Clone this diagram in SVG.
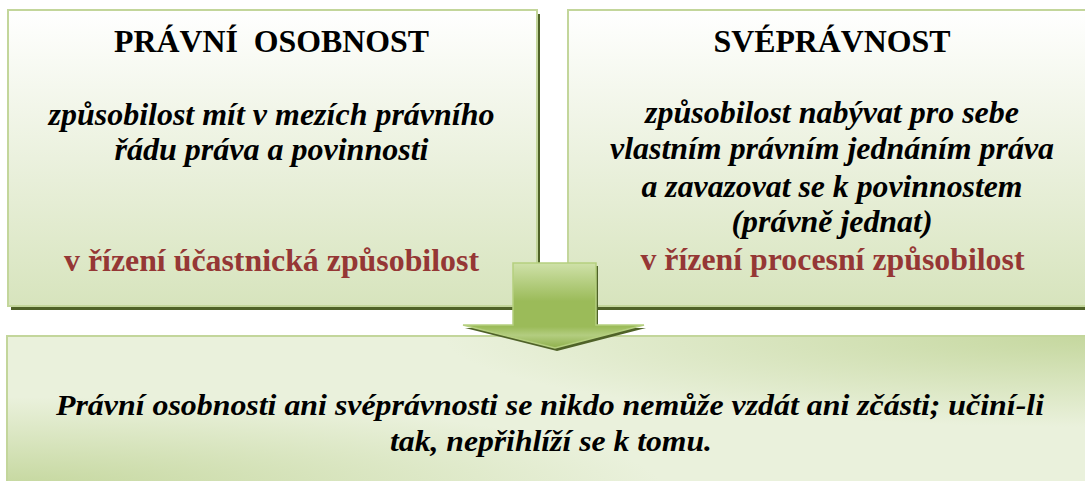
<svg xmlns="http://www.w3.org/2000/svg" width="1085" height="481" viewBox="0 0 1085 481">
<style>
.t{font-family:"Liberation Serif","Times New Roman",serif;font-weight:bold;text-anchor:middle;fill:#000}
.h{font-size:32px}
.b{font-size:31px;font-style:italic}
.r{font-size:31px;fill:#953735}
.f{font-size:30px;font-style:italic}
.box{fill:url(#gTop);stroke:#c3d69b;stroke-width:2}
.shadow{fill:#4f6228}
</style>
<defs>
<linearGradient id="gTop" x1="0" y1="0" x2="0" y2="1">
<stop offset="0" stop-color="#ffffff"/>
<stop offset="0.5" stop-color="#ebf1de"/>
<stop offset="1" stop-color="#d7e4bd"/>
</linearGradient>
<linearGradient id="gArrow" x1="0" y1="0" x2="0" y2="1">
<stop offset="0" stop-color="#cfe1a9"/>
<stop offset="0.45" stop-color="#9bbb59"/>
<stop offset="0.75" stop-color="#9bbb59"/>
<stop offset="0.85" stop-color="#b3cd80"/>
<stop offset="1" stop-color="#8fb04c"/>
</linearGradient>
<radialGradient id="gBL" cx="0" cy="1" r="1">
<stop offset="0" stop-color="#c3d69b" stop-opacity="0.95"/>
<stop offset="0.6" stop-color="#c3d69b" stop-opacity="0"/>
</radialGradient>
<radialGradient id="gTR" cx="1" cy="0" r="1">
<stop offset="0" stop-color="#c3d69b" stop-opacity="0.95"/>
<stop offset="0.6" stop-color="#c3d69b" stop-opacity="0"/>
</radialGradient>
</defs>

<g id="node-bottom">
<rect x="7" y="336" width="1090" height="150" fill="#eaf1dc" stroke="#c3d69b" stroke-width="2"/>
<rect x="8" y="337" width="1090" height="150" fill="url(#gBL)"/>
<rect x="8" y="337" width="1090" height="150" fill="url(#gTR)"/>
<text class="t f" x="550" y="415" textLength="988" lengthAdjust="spacingAndGlyphs">Právní osobnosti ani svéprávnosti se nikdo nemůže vzdát ani zčásti; učiní-li</text>
<text class="t f" x="551" y="451" textLength="322" lengthAdjust="spacingAndGlyphs">tak, nepřihlíží se k tomu.</text>
</g>

<g id="node-pravni-osobnost">
<rect class="shadow" x="11" y="14" width="529" height="296"/>
<rect class="box" x="8" y="10" width="529" height="296"/>
<text class="t h" x="271.5" y="52" textLength="315" lengthAdjust="spacingAndGlyphs" xml:space="preserve">PRÁVNÍ  OSOBNOST</text>
<text class="t b" x="271.5" y="125" textLength="446" lengthAdjust="spacingAndGlyphs">způsobilost mít v mezích právního</text>
<text class="t b" x="271.5" y="160" textLength="314" lengthAdjust="spacingAndGlyphs">řádu práva a povinnosti</text>
<text class="t r" x="271.5" y="271" textLength="415" lengthAdjust="spacingAndGlyphs">v řízení účastnická způsobilost</text>
</g>

<g id="node-svepravnost">
<rect class="shadow" x="571" y="14" width="530" height="296"/>
<rect class="box" x="568" y="10" width="530" height="296"/>
<text class="t h" x="832" y="52" textLength="237" lengthAdjust="spacingAndGlyphs">SVÉPRÁVNOST</text>
<text class="t b" x="832" y="123" textLength="374" lengthAdjust="spacingAndGlyphs">způsobilost nabývat pro sebe</text>
<text class="t b" x="832" y="159" textLength="444" lengthAdjust="spacingAndGlyphs">vlastním právním jednáním práva</text>
<text class="t b" x="832" y="197" textLength="381" lengthAdjust="spacingAndGlyphs">a zavazovat se k povinnostem</text>
<text class="t b" x="832" y="232" textLength="201" lengthAdjust="spacingAndGlyphs">(právně jednat)</text>
<text class="t r" x="832.5" y="270" textLength="384" lengthAdjust="spacingAndGlyphs">v řízení procesní způsobilost</text>
</g>

<g id="connectors">
<polygon points="515,266 598,266 598,328 646,328 557,351 465,328 515,328" fill="#4f6228"/>
<polygon points="513,263 596,263 596,325 644,325 555,348 463,325 513,325" fill="url(#gArrow)" stroke="#b5cf7f" stroke-width="1.5" stroke-linejoin="miter"/>
</g>
</svg>
